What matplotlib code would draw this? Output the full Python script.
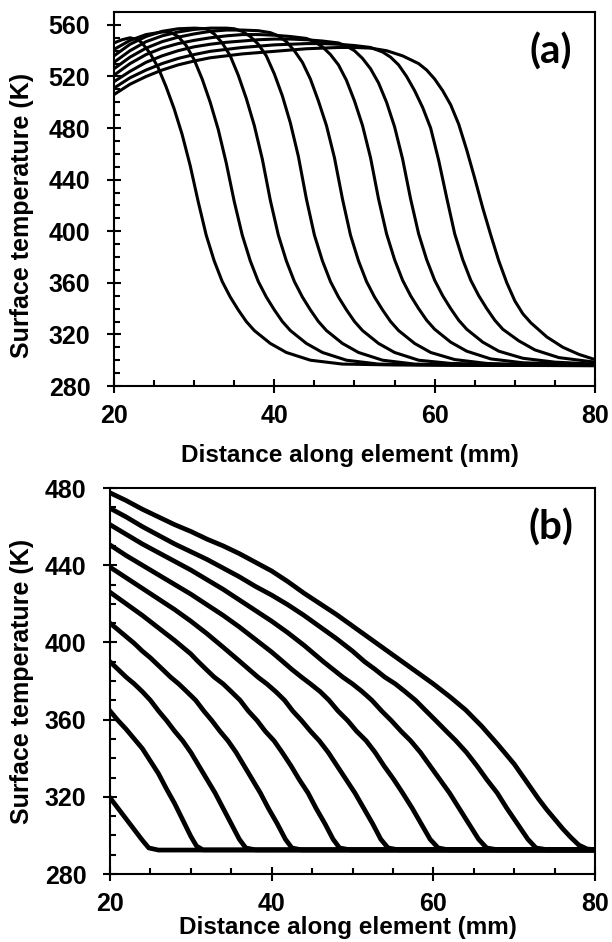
import numpy as np
import matplotlib
matplotlib.use("Agg")
import matplotlib.pyplot as plt
from matplotlib.ticker import MultipleLocator

plt.rcParams['font.family'] = ['Liberation Sans', 'DejaVu Sans']
plt.rcParams['font.weight'] = 'bold'

# ---- panel (a): surface temperature profiles (K) vs distance (mm) ----
a1_x = [20, 21, 22, 23, 23.5, 24.5, 25.5, 26.5, 27.5, 28.5, 29.5, 30.5, 31.5, 32.5, 33.5, 34.5, 35.5, 36.5, 37.5, 39.5, 41.5, 44.5, 48.5, 55, 65, 80]
a1_T = [546, 548.5, 550, 548.5, 546, 538, 527, 512, 495, 475, 451, 423, 397, 377, 361, 349, 339, 330, 323, 313, 306, 300, 297, 296.3, 296, 295.8]

a2_x = [20, 22, 24, 26, 27, 28, 29, 30, 31, 32, 33, 34, 35, 36, 37, 38, 39, 40, 41, 42, 44, 46, 49, 53, 60, 70, 80]
a2_T = [541, 548, 552.5, 554.5, 554.5, 551, 544, 533, 518, 500, 479, 453, 423, 397, 377, 361, 349, 339, 330, 323, 313, 306, 300, 297, 296.3, 296, 295.8]

a3_x = [20, 22, 24, 26, 28, 30, 31.5, 32.5, 33.5, 34.5, 35.5, 36.5, 37.5, 38.5, 39.5, 40.5, 41.5, 42.5, 43.5, 44.5, 45.5, 46.5, 48.5, 50.5, 53.5, 57.5, 65, 80]
a3_T = [536, 545, 551, 555, 557, 557.5, 557, 553, 546, 536, 521, 503, 482, 456, 424, 397, 377, 361, 349, 339, 330, 323, 313, 306, 300, 297, 296.3, 296]

a4_x = [20, 22, 24, 26, 28, 30, 32, 34, 35, 36, 37, 38, 39, 40, 41, 42, 43, 44, 45, 46, 47, 48, 49, 50, 51, 53, 55, 58, 62, 70, 80]
a4_T = [531, 540, 547, 551.5, 554.5, 556.5, 557.5, 557.5, 557, 555, 551, 545, 536, 522, 505, 484, 458, 425, 397, 377, 361, 349, 339, 330, 323, 313, 306, 300, 297.5, 296.5, 296]

a5_x = [20, 22, 24, 26, 28, 30, 32, 34, 36, 38, 39.5, 40.5, 41.5, 42.5, 43.5, 44.5, 45.5, 46.5, 47.5, 48.5, 49.5, 50.5, 51.5, 52.5, 53.5, 54.5, 55.5, 57.5, 59.5, 62.5, 66.5, 72, 80]
a5_T = [526, 535, 542, 547, 550.5, 553, 555, 556, 556, 555.5, 554, 551.5, 547, 540, 531, 518, 501, 482, 457, 425, 397, 377, 361, 349, 339, 330, 323, 313, 306, 300.5, 297.5, 296.5, 296]

a6_x = [20, 22, 24, 26, 28, 30, 32, 34, 36, 38, 40, 42, 44, 45, 46, 47, 48, 49, 50, 51, 52, 53, 54, 55, 56, 57, 58, 59, 60, 62, 64, 67, 71, 80]
a6_T = [521, 530, 537, 542, 545.5, 548, 550, 551.5, 552.5, 552.5, 552, 551, 549.5, 547, 543, 537, 529, 517, 501, 482, 457, 425, 398, 378, 362, 350, 340, 331, 324, 314, 307, 301, 298, 296.5]

a7_x = [20, 22, 24, 26, 28, 30, 32, 34, 36, 38, 40, 42, 44, 46, 48, 49, 50, 51, 52, 53, 54, 55, 56, 57, 58, 59, 60, 61, 62, 63, 64, 66, 68, 71, 75, 80]
a7_T = [516, 524, 531, 536, 540, 543, 545, 546.5, 547.5, 548.5, 549, 549, 548.5, 547.5, 546, 543.5, 540, 534, 526, 515, 500, 481, 456, 425, 398, 378, 362, 350, 340, 331, 324, 314, 307, 301.5, 298.5, 297]

a8_x = [20, 22, 24, 26, 28, 30, 32, 34, 36, 38, 40, 42, 44, 46, 48, 50, 52, 53.5, 54.5, 55.5, 56.5, 57.5, 58.5, 59.5, 60.5, 61.5, 62.5, 63.5, 64.5, 65.5, 66.5, 67.5, 68.5, 70.5, 72.5, 75.5, 80]
a8_T = [511, 519, 525, 530, 534, 537, 539.5, 541, 542.5, 543.5, 544.5, 545, 545.5, 545.5, 545, 544, 542.5, 539, 535, 529, 520, 509, 496, 480, 455, 426, 398, 378, 362, 350, 340, 331, 324, 315, 308, 302, 298.5]

a9_x = [20, 22, 24, 26, 28, 30, 32, 34, 36, 38, 40, 42, 44, 46, 48, 50, 52, 54, 56, 58, 59, 60, 61, 62, 63, 64, 65, 66, 67, 68, 69, 70, 71, 72, 74, 76, 78, 80]
a9_T = [506, 514, 520, 525, 529, 532, 534.5, 536, 537.5, 538.5, 539.5, 540.5, 541.5, 542, 542.5, 542.5, 542, 540, 536, 530, 525, 518, 509, 498, 483, 463, 441, 418, 397, 377, 360, 346, 336, 329, 318, 310, 304.5, 300.5]

# ---- panel (b) ----
b1_x = [20, 21, 22, 23, 24, 24.8, 26, 80]
b1_T = [319.5, 314, 308.5, 303, 297.5, 293.5, 292.4, 292.5]

b2_x = [20, 21, 22, 23, 24, 25, 26, 27, 28, 29, 30, 30.7, 31.5, 80]
b2_T = [364.5, 359.5, 355, 350, 345, 338.5, 332, 324, 316.5, 308, 299.5, 294.5, 292.5, 292.5]

b3_x = [20, 21, 22, 23, 24, 25, 26, 27, 28, 29, 30, 31, 32, 33, 34, 35, 36, 36.8, 38, 80]
b3_T = [390, 386, 382, 378.5, 374.5, 370, 364.5, 359.5, 354, 349, 343, 336, 329, 322, 314, 306, 298, 293.5, 292.5, 292.5]

b4_x = [20, 21, 22, 23, 24, 25, 25.5, 26.5, 27.5, 28.5, 29.5, 30.6, 31.6, 32.6, 33.6, 34.6, 35.6, 36.6, 37.6, 38.6, 39.6, 40.7, 41.7, 42.5, 43.7, 80]
b4_T = [410, 406.5, 403, 399.5, 395.5, 392, 390, 386, 382, 378.5, 374.5, 370, 364.5, 359.5, 354, 349, 343, 336, 329, 322, 314, 306, 298, 293.5, 292.5, 292.5]

b5_x = [20, 22, 24, 26, 28, 30, 30.8, 31.9, 32.9, 34.0, 35.0, 36.1, 37.1, 38.2, 39.2, 40.3, 41.3, 42.4, 43.4, 44.5, 45.5, 46.6, 47.6, 48.4, 49.7, 80]
b5_T = [426, 420, 414, 407.5, 401, 394, 390.5, 386, 382, 378.5, 374.5, 370, 364.5, 359.5, 354, 349, 343, 336, 329, 322, 314, 306, 298, 293.5, 292.5, 292.5]

b6_x = [20, 22, 24, 26, 28, 30, 32, 34, 36.1, 37.2, 38.3, 39.4, 40.5, 41.6, 42.6, 43.7, 44.8, 45.9, 47.0, 48.1, 49.2, 50.3, 51.4, 52.5, 53.5, 54.4, 55.7, 80]
b6_T = [439, 433.5, 428, 422.5, 417, 411, 404.5, 397.5, 390, 386, 382, 378.5, 374.5, 370, 364.5, 359.5, 354, 349, 343, 336, 329, 322, 314, 306, 298, 293.5, 292.5, 292.5]

b7_x = [20, 22, 24, 26, 28, 30, 32, 34, 36, 38, 40, 41.4, 42.5, 43.7, 44.8, 46.0, 47.1, 48.2, 49.4, 50.5, 51.7, 52.8, 53.9, 55.1, 56.2, 57.4, 58.5, 59.6, 60.6, 61.9, 80]
b7_T = [450.5, 445, 440, 435, 430, 425, 419.5, 414, 408, 401.5, 395, 390, 386, 382, 378.5, 374.5, 370, 364.5, 359.5, 354, 349, 343, 336, 329, 322, 314, 306, 298, 293.5, 292.5, 292.5]

b8_x = [20, 22, 24, 26, 28, 30, 32, 34, 36, 38, 40, 42, 44, 46.4, 47.6, 48.8, 50.0, 51.2, 52.4, 53.6, 54.8, 56.0, 57.2, 58.4, 59.6, 60.8, 62.0, 63.2, 64.4, 65.6, 66.6, 68.0, 80]
b8_T = [461, 456, 451, 446.5, 442, 437.5, 432.5, 427.5, 422, 416.5, 411, 405, 398.5, 390, 386, 382, 378.5, 374.5, 370, 364.5, 359.5, 354, 349, 343, 336, 329, 322, 314, 306, 298, 293.5, 292.5, 292.5]

b9_x = [20, 22, 24, 26, 28, 30, 32, 34, 36, 38, 40, 42, 44, 46, 48, 50, 51.5, 52.8, 54.0, 55.3, 56.5, 57.8, 59.1, 60.3, 61.6, 62.8, 64.1, 65.4, 66.6, 67.9, 69.1, 70.4, 71.7, 72.7, 74.2, 80]
b9_T = [469.5, 465, 460, 455.5, 451, 447, 443, 438.5, 434, 429, 424.5, 419.5, 414, 408, 402, 395.5, 390, 386, 382, 378.5, 374.5, 370, 364.5, 359.5, 354, 349, 343, 336, 329, 322, 314, 306, 298, 293.5, 292.5, 292.5]

b10_x = [20, 22, 24, 26, 28, 30, 32, 34, 36, 38, 40, 42, 44, 46, 48, 50, 52, 54, 56, 58, 60, 62, 64, 66, 68, 70, 72, 73, 74, 75, 76, 77, 78, 79, 80]
b10_T = [477.5, 473.5, 469, 465, 461, 457.5, 453.5, 450, 446, 441.5, 437, 431.5, 425.5, 420, 414.5, 408.5, 402.5, 396.5, 390.5, 384.5, 378.5, 372, 365, 356.5, 347, 337, 325, 319, 313.5, 308.5, 303.5, 299, 295, 293, 292.5]

curves_a = [(a1_x, a1_T), (a2_x, a2_T), (a3_x, a3_T), (a4_x, a4_T), (a5_x, a5_T),
            (a6_x, a6_T), (a7_x, a7_T), (a8_x, a8_T), (a9_x, a9_T)]
curves_b = [(b1_x, b1_T), (b2_x, b2_T), (b3_x, b3_T), (b4_x, b4_T), (b5_x, b5_T),
            (b6_x, b6_T), (b7_x, b7_T), (b8_x, b8_T), (b9_x, b9_T), (b10_x, b10_T)]

W, H = 612, 942
fig = plt.figure(figsize=(W/100, H/100), dpi=100)

# axes boxes from pixel edges: left, top, right, bottom
ax_a = fig.add_axes([114/W, (H-386)/H, (595-114)/W, (386-12)/H])
ax_b = fig.add_axes([110/W, (H-874)/H, (595-110)/W, (874-488)/H])

for x, T in curves_a:
    ax_a.plot(x, T, color='black', lw=2.2, solid_joinstyle='round')
for x, T in curves_b:
    ax_b.plot(x, T, color='black', lw=3.4, solid_joinstyle='round')

def style(ax, ylo, yhi, lab, pos):
    ax.set_xlim(20, 80)
    ax.set_ylim(ylo, yhi)
    ax.xaxis.set_major_locator(MultipleLocator(20))
    ax.xaxis.set_minor_locator(MultipleLocator(5))
    ax.yaxis.set_major_locator(MultipleLocator(40))
    ax.yaxis.set_minor_locator(MultipleLocator(10))
    ax.tick_params(which='major', direction='inout', length=10, width=1.5, labelsize=18)
    ax.tick_params(which='minor', direction='in', length=4.5, width=1.5)
    ax.tick_params(axis='x', which='major', pad=8)
    ax.tick_params(axis='y', which='major', pad=12)
    for s in ax.spines.values():
        s.set_linewidth(1.5)
    ax.set_xlabel('Distance along element (mm)', fontsize=17.5, fontweight='bold')
    ax.set_ylabel('Surface temperature (K)', fontsize=18, fontweight='bold')
    ax.yaxis.set_label_coords(pos[0], pos[1])
    ax.xaxis.set_label_coords(0.49, pos[2])
    ax.text(0.909, pos[3], lab, transform=ax.transAxes, ha='center', va='center',
            fontsize=29, fontweight='bold', family=['Lato', 'DejaVu Sans'])

style(ax_a, 280, 570, '(a)', (-0.166, 0.457, -0.155, 0.893))
style(ax_b, 280, 480, '(b)', (-0.157, 0.5, -0.109, 0.898))
ax_a.set_yticks(np.arange(280, 561, 40))

fig.savefig('out.png', dpi=100)
